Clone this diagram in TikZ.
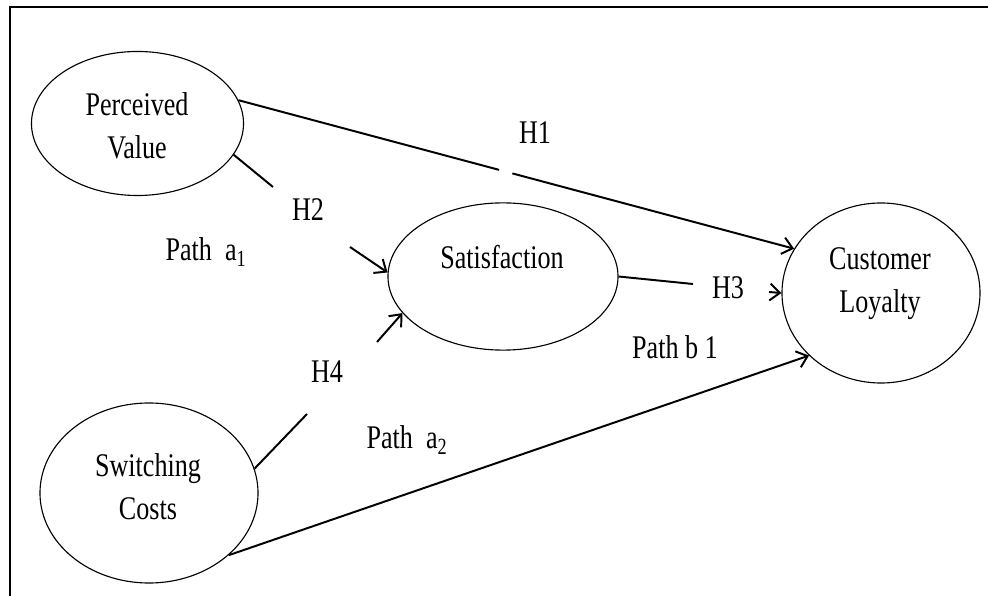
\documentclass[tikz,border=0pt]{standalone}
\usepackage{fontspec}
\setmainfont[FakeStretch=0.79]{Liberation Serif}
\usetikzlibrary{arrows.meta,shapes.geometric,calc}

\begin{document}
\begin{tikzpicture}[x=0.025cm,y=-0.025cm,>={Straight Barb[length=2.5mm,width=4.2mm]},
  line width=1.4pt,
  construct/.style={ellipse,draw,line width=0.8pt,inner sep=0pt},
  caption/.style={font=\fontsize{23.5}{30.6}\selectfont,align=center,inner sep=0pt}]
  \useasboundingbox (0,0) rectangle (988,596);
  \draw[line width=1.7pt] (10,596) -- (10,7) -- (988,7);

  % constructs
  \node[construct,minimum width=5.3cm,minimum height=3.6cm] (pv) at (137.5,123.5) {};
  \node[construct,minimum width=5.75cm,minimum height=3.68cm] (sat) at (503,276.5) {};
  \node[construct,minimum width=4.95cm,minimum height=4.5cm] (cl) at (881,293) {};
  \node[construct,minimum width=5.45cm,minimum height=4.5cm] (sc) at (149,493) {};
  \node[caption] (pvtext) at (137,126) {Perceived\\Value};
  \node[caption] (sattext) at (502,257) {Satisfaction};
  \node[caption] (cltext) at (880,284) {Customer\\Loyalty};
  \node[caption] (sctext) at (148,487) {Switching\\Costs};

  % hypotheses and paths
  \node[caption] (h1) at (535,133) {H1};
  \node[caption] (h2) at (308,210) {H2};
  \node[caption] (h3) at (728,288) {H3};
  \node[caption] (h4) at (327,372) {H4};
  \node[caption] (pa1) at (206,252) {Path\ \ a\textsubscript{1}};
  \node[caption] (pb1) at (675,347) {Path b 1};
  \node[caption] (pa2) at (407,440) {Path\ \ a\textsubscript{2}};

  \coordinate (h1a) at ($(pv.13)!0.469!(cl.153)$);
  \coordinate (h1b) at ($(pv.13)!0.493!(cl.153)$);
  \coordinate (h2a) at (273,187);
  \coordinate (h2b) at (350,247);
  \coordinate (h3a) at (693,284);
  \coordinate (h3b) at (769,292);
  \coordinate (h4a) at (307,414);
  \coordinate (h4b) at (377,342);

  \draw (pv.13) -- (h1a);
  \draw[->] (h1b) -- (cl.153);
  \draw (pv.-18) -- (h2a);
  \draw[->] (h2b) -- (sat.178);
  \draw (sat.east) -- (h3a);
  \draw[->] (h3b) -- (cl.west);
  \draw (sc.13) -- (h4a);
  \draw[->] (h4b) -- (sat.200);
  \draw[->] (sc.-38) -- (cl.-139);
\end{tikzpicture}
\end{document}
